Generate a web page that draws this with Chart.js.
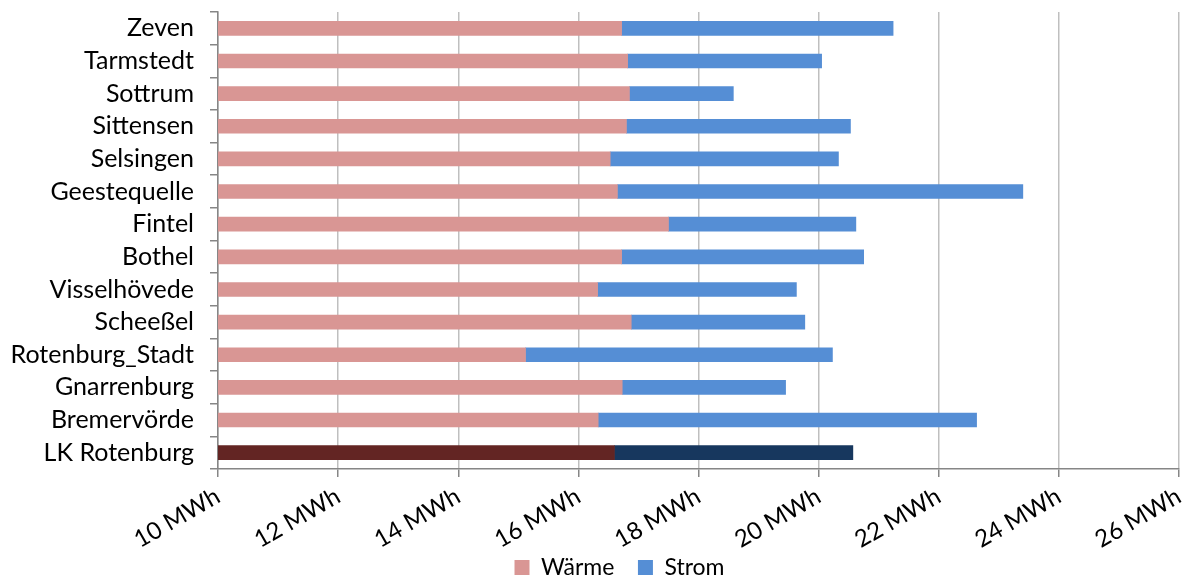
<!DOCTYPE html>
<html>
<head>
<meta charset="utf-8">
<script src="https://cdn.jsdelivr.net/npm/chart.js@4"></script>
<style>
  html, body { margin: 0; padding: 0; background: #fff; }
  #wrap { width: 1186px; height: 582px; }
</style>
</head>
<body>
<div id="wrap"><canvas id="grafik"></canvas></div>
<script>
// Gemeinden (von oben nach unten)
const orte = ["Zeven", "Tarmstedt", "Sottrum", "Sittensen", "Selsingen", "Geestequelle", "Fintel",
  "Bothel", "Visselhövede", "Scheeßel", "Rotenburg_Stadt", "Gnarrenburg", "Bremervörde", "LK Rotenburg"];

// Verbrauch in MWh (Strom wird auf Wärme gestapelt)
const waerme = [16.72, 16.82, 16.85, 16.80, 16.53, 16.65, 17.50, 16.72, 16.32, 16.88, 15.12, 16.73, 16.33, 16.60];
const strom = [4.52, 3.23, 1.73, 3.73, 3.80, 6.75, 3.12, 4.03, 3.31, 2.89, 5.11, 2.72, 6.30, 3.97];

const xMin = 10;
const xMax = 26;
const xSchritt = 2;

// Landkreis-Balken dunkler
const farbeWaerme = orte.map((o) => (o === "LK Rotenburg" ? "#632523" : "#D99694"));
const farbeStrom = orte.map((o) => (o === "LK Rotenburg" ? "#17375E" : "#558ED5"));

const schrift = "Lato, 'Open Sans', sans-serif";

// Plotfläche weiß hinterlegen
const hintergrund = {
  id: "hintergrund",
  beforeDraw(chart) {
    const { ctx, chartArea } = chart;
    ctx.save();
    ctx.fillStyle = "#fff";
    ctx.fillRect(chartArea.left, chartArea.top, chartArea.right - chartArea.left, chartArea.bottom - chartArea.top);
    ctx.restore();
  },
};

// Legende etwas nach rechts unten, wie im Original
const legendeVerschieben = {
  id: "legendeVerschieben",
  afterLayout(chart) {
    chart.legend.left += 30;
    chart.legend.right += 30;
    chart.legend.top += 7;
    chart.legend.bottom += 7;
  },
};

const ctx = document.getElementById("grafik").getContext("2d");
new Chart(ctx, {
  type: "bar",
  data: {
    labels: orte,
    datasets: [
      { label: "Wärme", data: waerme, backgroundColor: farbeWaerme, barThickness: 14 },
      { label: "Strom", data: strom, backgroundColor: farbeStrom, barThickness: 14 },
    ],
  },
  options: {
    indexAxis: "y",
    responsive: true,
    maintainAspectRatio: false,
    animation: false,
    layout: { padding: { top: 12, right: 7, left: 0, bottom: 0 } },
    plugins: {
      tooltip: { enabled: false },
      legend: {
        position: "bottom",
        labels: {
          color: "#000",
          font: { family: schrift, size: 23 },
          boxWidth: 15,
          boxHeight: 15,
          padding: 0,
          generateLabels: () => [
            { text: "Wärme    ", fillStyle: "#D99694", strokeStyle: "#D99694", lineWidth: 0 },
            { text: "Strom", fillStyle: "#558ED5", strokeStyle: "#558ED5", lineWidth: 0 },
          ],
        },
      },
    },
    scales: {
      x: {
        stacked: true,
        min: xMin,
        max: xMax,
        afterFit: (scale) => {
          scale.height = 80;
          scale.paddingLeft = 0;
          scale.paddingRight = 0;
        },
        ticks: {
          stepSize: xSchritt,
          color: "#000",
          font: { family: schrift, size: 24 },
          minRotation: 30,
          maxRotation: 30,
          padding: 5,
          callback: (v) => v + " MWh",
        },
        grid: { color: "#BFBFBF", lineWidth: 1.5, tickLength: 8, tickColor: "#868686" },
        border: { color: "#868686", width: 1.5 },
      },
      y: {
        stacked: true,
        afterFit: (scale) => {
          scale.width = 218;
          scale.paddingTop = 0;
          scale.paddingBottom = 0;
        },
        ticks: { color: "#000", font: { family: schrift, size: 25 }, padding: 16, autoSkip: false },
        grid: { drawOnChartArea: false, tickLength: 8, color: "#868686", lineWidth: 1.5 },
        border: { color: "#868686", width: 1.5 },
      },
    },
  },
  plugins: [hintergrund, legendeVerschieben],
});
</script>
</body>
</html>
